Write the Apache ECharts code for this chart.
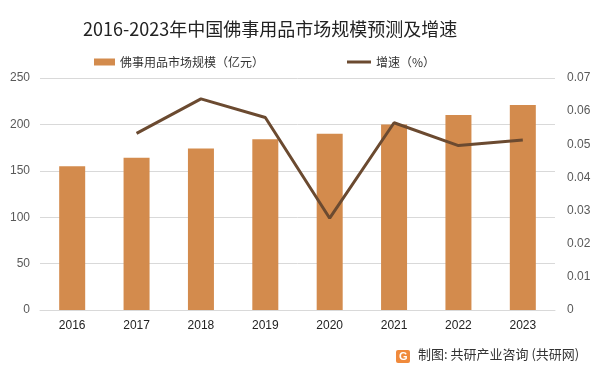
<!DOCTYPE html>
<html>
<head>
<meta charset="utf-8">
<script src="https://cdn.jsdelivr.net/npm/echarts@6/dist/echarts.min.js"></script>
<style>
  html, body { margin: 0; padding: 0; background: #fff; }
  #chart { width: 601px; height: 375px; }
</style>
</head>
<body>
<div id="chart"></div>
<script>
// 数据
var years = ['2016', '2017', '2018', '2019', '2020', '2021', '2022', '2023']
var marketSize = [155, 164, 174, 184, 190, 200, 210, 221]
var growthRate = [null, 0.0533, 0.0637, 0.0581, 0.0277, 0.0565, 0.0496, 0.0513]
var leftTicks = [0, 50, 100, 150, 200, 250]
var rightTicks = [0, 0.01, 0.02, 0.03, 0.04, 0.05, 0.06, 0.07]

var fontCN = '"Noto Sans CJK SC", "Noto Sans", sans-serif'
var fontNum = '"Liberation Sans", "Noto Sans", sans-serif'

var chart = echarts.init(document.getElementById('chart'))

chart.setOption({
  animation: false,
  backgroundColor: '#fff',
  title: {
    text: '2016-2023年中国佛事用品市场规模预测及增速',
    left: 78,
    top: 15,
    textStyle: {
      fontFamily: fontCN,
      fontSize: 18,
      fontWeight: 'normal',
      color: '#222'
    }
  },
  legend: [
    {
      data: ['佛事用品市场规模（亿元）'],
      left: 89,
      top: 51,
      itemWidth: 21,
      itemHeight: 7,
      itemGap: 4,
      icon: 'rect',
      textStyle: { fontFamily: fontCN, fontSize: 12, color: '#333' }
    },
    {
      data: ['增速（%）'],
      left: 342,
      top: 51,
      itemWidth: 24,
      itemHeight: 3,
      icon: 'rect',
      textStyle: { fontFamily: fontCN, fontSize: 12, color: '#333' }
    }
  ],
  grid: {
    left: 40,
    right: 46,
    top: 78,
    bottom: 65
  },
  xAxis: {
    type: 'category',
    data: years,
    axisTick: { show: false },
    axisLine: { lineStyle: { color: '#d9d9d9' } },
    axisLabel: {
      fontFamily: fontNum,
      fontSize: 12,
      color: '#222',
      margin: 10
    }
  },
  yAxis: [
    {
      type: 'value',
      min: leftTicks[0],
      max: leftTicks[leftTicks.length - 1],
      interval: 50,
      axisLine: { show: false },
      axisTick: { show: false },
      splitLine: { lineStyle: { color: '#d9d9d9' } },
      axisLabel: {
        fontFamily: fontNum,
        fontSize: 12,
        color: '#595959',
        margin: 10
      }
    },
    {
      type: 'value',
      min: rightTicks[0],
      max: rightTicks[rightTicks.length - 1],
      interval: 0.01,
      axisLine: { show: false },
      axisTick: { show: false },
      splitLine: { show: false },
      axisLabel: {
        fontFamily: fontNum,
        fontSize: 12,
        color: '#595959',
        margin: 12,
        formatter: function (v) {
          return v === 0 ? '0' : v.toFixed(2)
        }
      }
    }
  ],
  series: [
    {
      name: '佛事用品市场规模（亿元）',
      type: 'bar',
      data: marketSize,
      barWidth: 26,
      itemStyle: { color: '#d38b4d' }
    },
    {
      name: '增速（%）',
      type: 'line',
      yAxisIndex: 1,
      data: growthRate,
      symbol: 'none',
      lineStyle: { color: '#6b4a30', width: 3 },
      itemStyle: { color: '#6b4a30' }
    }
  ],
  graphic: [
    {
      type: 'rect',
      left: 396,
      top: 350,
      shape: { width: 14, height: 13, r: 2 },
      style: { fill: '#f08a3c' }
    },
    {
      type: 'text',
      left: 399,
      top: 351,
      style: {
        text: 'G',
        fontFamily: fontNum,
        fontSize: 11,
        fontWeight: 'bold',
        fill: '#fff'
      }
    },
    {
      type: 'text',
      left: 418,
      top: 348,
      style: {
        text: '制图: 共研产业咨询 (共研网)',
        fontFamily: fontCN,
        fontSize: 13,
        fill: '#333'
      }
    }
  ]
})
</script>
</body>
</html>
